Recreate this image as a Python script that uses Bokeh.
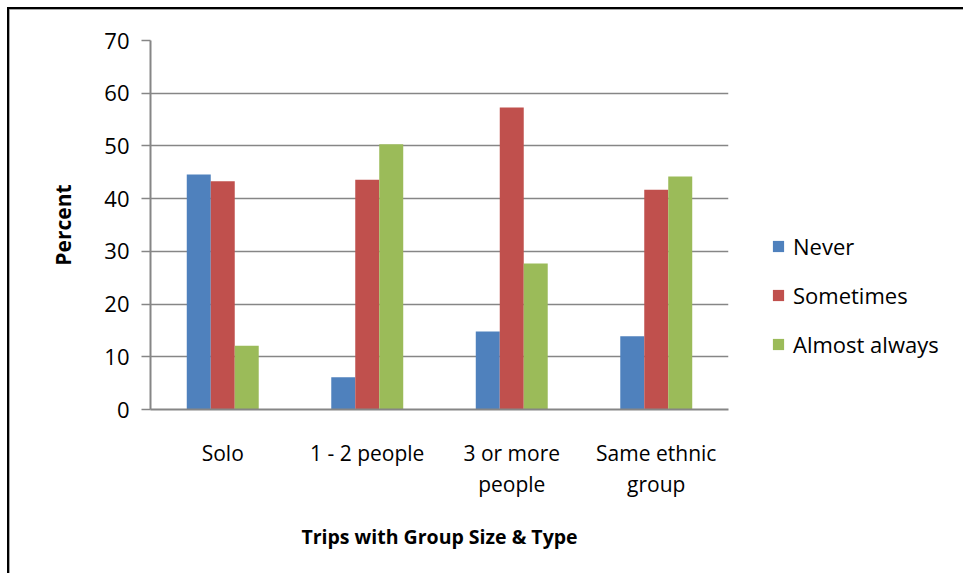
from bokeh.plotting import figure
from bokeh.models import FactorRange, Range1d, Legend, LegendItem, ColumnDataSource, FixedTicker
from bokeh.transform import dodge
from bokeh.embed import file_html
from bokeh.resources import INLINE

categories = ["Solo", "1 - 2 people", "3 or more\npeople", "Same ethnic\ngroup"]
never = [44.6, 6.1, 14.8, 13.9]
sometimes = [43.3, 43.6, 57.3, 41.7]
almost_always = [12.1, 50.3, 27.7, 44.2]
series_names = ["Never", "Sometimes", "Almost always"]
colors = ["#4F81BD", "#C0504D", "#9BBB59"]
y_ticks = [0, 10, 20, 30, 40, 50, 60, 70]

FONT = "Open Sans"

src = ColumnDataSource(dict(cats=categories, never=never, sometimes=sometimes, almost=almost_always))

p = figure(frame_width=578, frame_height=369,
           x_range=FactorRange(factors=categories, range_padding=0),
           y_range=Range1d(0, 70), output_backend="svg", toolbar_location=None,
           min_border_left=141, min_border_right=227, min_border_top=31, min_border_bottom=164)

p.styles = {"border-left": "2px solid #000000", "border-top": "2px solid #000000",
            "box-shadow": "inset 2px 2px 0 #8a8a8a", "margin-left": "7px", "margin-top": "7px"}

bw = 0.166
renderers = []
for col, off, c in zip(["never", "sometimes", "almost"], [-bw, 0, bw], colors):
    r = p.vbar(x=dodge("cats", off, range=p.x_range), top=col, width=bw, source=src,
               fill_color=c, line_color=None)
    renderers.append(r)

p.outline_line_color = None
p.background_fill_color = "white"
p.border_fill_color = "white"

p.xgrid.grid_line_color = None
p.ygrid.grid_line_color = "#868686"
p.ygrid.grid_line_width = 1.5

p.yaxis.ticker = FixedTicker(ticks=y_ticks)
p.yaxis.axis_line_color = "#868686"
p.yaxis.axis_line_width = 2
p.yaxis.major_tick_line_color = "#868686"
p.yaxis.major_tick_line_width = 1.5
p.yaxis.major_tick_out = 9
p.yaxis.major_tick_in = 0
p.yaxis.minor_tick_line_color = None
p.yaxis.major_label_text_font = FONT
p.yaxis.major_label_text_font_size = "22px"
p.yaxis.major_label_text_color = "#000000"
p.yaxis.major_label_standoff = 12
p.yaxis.axis_label = "Percent"
p.yaxis.axis_label_text_font = FONT
p.yaxis.axis_label_text_font_size = "21px"
p.yaxis.axis_label_text_font_style = "bold"
p.yaxis.axis_label_text_color = "#000000"
p.yaxis.axis_label_standoff = 24

p.xaxis.axis_line_color = "#868686"
p.xaxis.axis_line_width = 2
p.xaxis.major_tick_line_color = None
p.xaxis.minor_tick_line_color = None
p.xaxis.major_label_text_font = FONT
p.xaxis.major_label_text_font_size = "21px"
p.xaxis.major_label_text_color = "#000000"
p.xaxis.major_label_text_line_height = 1.13
p.xaxis.major_label_standoff = 23
p.xaxis.axis_label = "Trips with Group Size & Type"
p.xaxis.axis_label_text_font = FONT
p.xaxis.axis_label_text_font_size = "19.5px"
p.xaxis.axis_label_text_font_style = "bold"
p.xaxis.axis_label_text_color = "#000000"
p.xaxis.axis_label_standoff = 22

legend = Legend(items=[LegendItem(label=n, renderers=[r]) for n, r in zip(series_names, renderers)],
                location=(43, 50), glyph_width=14, glyph_height=14,
                label_text_font=FONT, label_text_font_size="22px", label_text_color="#000000",
                spacing=19, padding=0, margin=0, border_line_color=None, background_fill_alpha=0,
                label_standoff=8)
p.add_layout(legend, "right")

open("out.html", "w").write(file_html(p, INLINE))
